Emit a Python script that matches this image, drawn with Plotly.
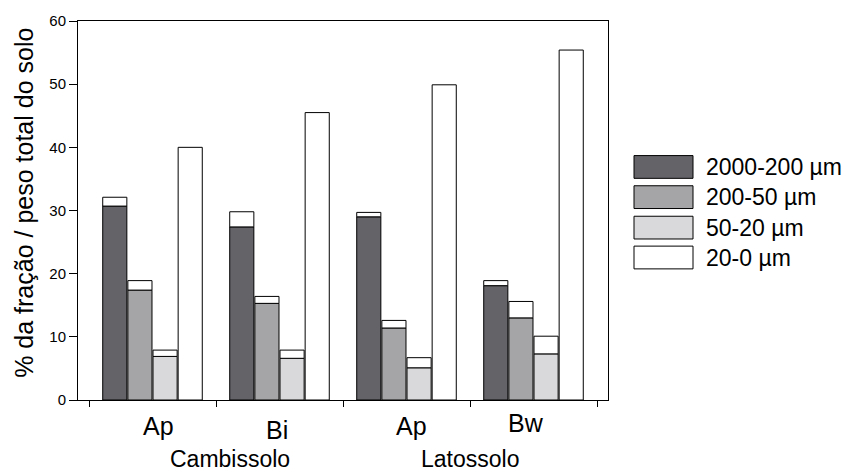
import plotly.graph_objects as go

# Horizontes e solos
horizontes = ["Ap", "Bi", "Ap", "Bw"]
solos = ["Cambissolo", "Latossolo"]
fracoes = ["2000-200 µm", "200-50 µm", "50-20 µm", "20-0 µm"]

# % da fração (parte preenchida) e topo da barra (parte branca acima)
f_2000_200 = [30.7, 27.4, 29.0, 18.1]
f_2000_200_topo = [32.1, 29.8, 29.7, 18.9]
f_200_50 = [17.4, 15.3, 11.4, 13.0]
f_200_50_topo = [18.9, 16.4, 12.6, 15.6]
f_50_20 = [6.9, 6.6, 5.1, 7.3]
f_50_20_topo = [7.9, 7.9, 6.7, 10.1]
f_20_0 = [40.0, 45.5, 49.9, 55.4]

cores = ["#646368", "#a5a5a7", "#d9d9db", "#ffffff"]
deslocamentos = [-0.297, -0.099, 0.099, 0.297]
largura = 0.19
fonte = "Liberation Sans, Arial, sans-serif"

grupos = list(range(1, len(horizontes) + 1))
fig = go.Figure()

series = [
    (f_2000_200, f_2000_200_topo),
    (f_200_50, f_200_50_topo),
    (f_50_20, f_50_20_topo),
    (f_20_0, None),
]

for i, (vals, topo) in enumerate(series):
    xs = [g + deslocamentos[i] for g in grupos]
    fig.add_trace(go.Bar(
        x=xs, y=vals, width=largura, marker=dict(color=cores[i], line=dict(color="black", width=1)),
        showlegend=False, hoverinfo="skip",
    ))
    if topo is not None:
        fig.add_trace(go.Bar(
            x=xs, y=[t - v for t, v in zip(topo, vals)], base=vals, width=largura,
            marker=dict(color="white", line=dict(color="black", width=1)),
            showlegend=False, hoverinfo="skip",
        ))

# Rótulos dos horizontes e dos solos
rot_dx = [0.05, -0.02, 0.04, -0.06]
rot_y = [-0.068, -0.08, -0.068, -0.062]
for g, h, dx, yy in zip(grupos, horizontes, rot_dx, rot_y):
    fig.add_annotation(x=g + dx, y=yy, xref="x", yref="paper", text=h, showarrow=False,
                       font=dict(size=25, color="black", family=fonte), yanchor="middle")
for s, xs in zip(solos, [1.61, 3.5]):
    fig.add_annotation(x=xs, y=-0.155, xref="x", yref="paper", text=s, showarrow=False,
                       font=dict(size=23, color="black", family=fonte), yanchor="middle")

# Título do eixo y
fig.add_annotation(x=-0.102, y=0.52, xref="paper", yref="paper", text="% da fração / peso total do solo",
                   textangle=-90, showarrow=False, font=dict(size=25, color="black", family=fonte),
                   xanchor="center", yanchor="middle")

# Legenda desenhada com retângulos
x0, x1 = (634 - 78) / 530, (693 - 78) / 530
centros = [164.5, 195.0, 225.8, 256.0]
for nome, cor, cy in zip(fracoes, cores, centros):
    y0 = (400 - (cy + 11.5)) / 383
    y1 = (400 - (cy - 11.5)) / 383
    fig.add_shape(type="rect", xref="paper", yref="paper", x0=x0, x1=x1, y0=y0, y1=y1,
                  fillcolor=cor, line=dict(color="black", width=1))
    fig.add_annotation(x=(704 - 78) / 530, y=(400 - cy) / 383, xref="paper", yref="paper",
                       text=nome, showarrow=False, xanchor="left", yanchor="middle",
                       font=dict(size=23, color="black", family=fonte))

fig.update_layout(
    width=847, height=471,
    margin=dict(l=78, r=239, t=17, b=71),
    barmode="overlay",
    plot_bgcolor="white", paper_bgcolor="white",
    font=dict(family=fonte, color="black"),
    showlegend=False,
)
fig.update_xaxes(
    range=[0.5 - 11 / 127, 4.5 + 11 / 127],
    tickvals=[0.5, 1.5, 2.5, 3.5, 4.5], showticklabels=False,
    ticks="outside", ticklen=6, tickcolor="black",
    showline=True, linecolor="black", linewidth=1, mirror=True,
    showgrid=False, zeroline=False,
)
fig.update_yaxes(
    range=[0, 60], dtick=10, ticks="outside", ticklen=8, tickcolor="black",
    tickfont=dict(size=15, color="black", family=fonte),
    showline=True, linecolor="black", linewidth=1, mirror=True,
    showgrid=False, zeroline=False,
)

fig.write_html("out.html")
